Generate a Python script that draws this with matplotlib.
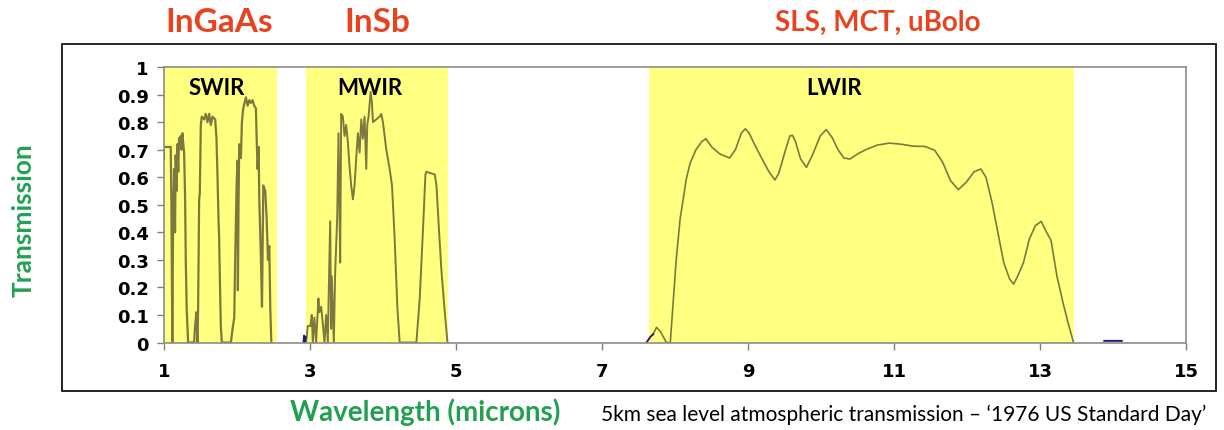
import numpy as np
import matplotlib
matplotlib.use('Agg')
import matplotlib.pyplot as plt
from matplotlib.patches import Rectangle

# transmission, one list per window
swir_x = [1.014, 1.092, 1.101, 1.106, 1.114, 1.124, 1.137, 1.151, 1.160, 1.170, 1.183, 1.195,
          1.206, 1.229, 1.240, 1.252, 1.261, 1.275, 1.288, 1.298, 1.311, 1.330,
          1.412, 1.426, 1.444, 1.458, 1.467, 1.481, 1.490, 1.504, 1.517, 1.549, 1.572,
          1.595, 1.618, 1.641, 1.664, 1.701, 1.719, 1.733, 1.746, 1.755, 1.765, 1.778, 1.792,
          1.916, 1.939, 1.962, 1.975, 1.994, 2.007, 2.012, 2.021, 2.030, 2.053, 2.067,
          2.085, 2.103, 2.122, 2.145, 2.168, 2.190, 2.213, 2.236, 2.259, 2.268, 2.282,
          2.296, 2.305, 2.328, 2.342, 2.360, 2.387, 2.406, 2.424, 2.442, 2.456, 2.470]
swir_y = [0.71, 0.71, 0.50, 0.30, 0.00, 0.45, 0.63, 0.40, 0.68, 0.55, 0.72, 0.62,
          0.74, 0.75, 0.70, 0.76, 0.73, 0.69, 0.54, 0.30, 0.12, 0.00,
          0.00, 0.06, 0.11, 0.00, 0.12, 0.52, 0.54, 0.79, 0.82, 0.81, 0.83,
          0.80, 0.83, 0.79, 0.82, 0.81, 0.74, 0.60, 0.45, 0.38, 0.23, 0.06, 0.00,
          0.00, 0.05, 0.09, 0.30, 0.57, 0.66, 0.19, 0.50, 0.72, 0.67, 0.80,
          0.85, 0.87, 0.89, 0.86, 0.88, 0.87, 0.88, 0.86, 0.85, 0.75, 0.63,
          0.71, 0.52, 0.30, 0.13, 0.57, 0.55, 0.45, 0.30, 0.35, 0.12, 0.00]

mwir_x = [2.946, 2.969, 3.005, 3.024, 3.038, 3.060, 3.083, 3.115, 3.129, 3.152, 3.175,
          3.198, 3.221, 3.244, 3.257, 3.276, 3.289, 3.299, 3.326, 3.344, 3.372, 3.390,
          3.404, 3.413, 3.427, 3.450, 3.473, 3.495, 3.518, 3.541, 3.564, 3.587, 3.610,
          3.633, 3.656, 3.679, 3.702, 3.724, 3.747, 3.770, 3.784, 3.802, 3.830, 3.848,
          3.862, 3.907, 3.953, 3.976, 3.999, 4.045, 4.091, 4.123, 4.159, 4.196, 4.228,
          4.457, 4.503, 4.549, 4.581, 4.594, 4.709, 4.732, 4.764, 4.800, 4.846, 4.883]
mwir_y = [0.00, 0.06, 0.06, 0.10, 0.00, 0.09, 0.00, 0.16, 0.11, 0.13, 0.07, 0.00,
          0.10, 0.00, 0.19, 0.44, 0.05, 0.24, 0.00, 0.25, 0.45, 0.76,
          0.48, 0.29, 0.83, 0.82, 0.75, 0.79, 0.73, 0.64, 0.57, 0.52, 0.57,
          0.67, 0.76, 0.69, 0.81, 0.74, 0.82, 0.63, 0.79, 0.82, 0.91, 0.87,
          0.80, 0.81, 0.82, 0.83, 0.80, 0.70, 0.63, 0.57, 0.38, 0.13, 0.00,
          0.00, 0.16, 0.42, 0.61, 0.62, 0.61, 0.57, 0.42, 0.26, 0.11, 0.00]

lwir_x = [7.70, 7.746, 7.800, 7.881, 7.935, 7.962, 8.016, 8.070, 8.124, 8.151, 8.205,
          8.286, 8.368, 8.422, 8.503, 8.611, 8.746, 8.827, 8.908, 8.962, 9.016, 9.097,
          9.205, 9.286, 9.368, 9.422, 9.503, 9.573, 9.611, 9.649, 9.719, 9.800, 9.881,
          9.989, 10.070, 10.151, 10.232, 10.314, 10.395, 10.503, 10.611, 10.773, 10.935,
          11.097, 11.259, 11.422, 11.557, 11.665, 11.773, 11.881, 11.989, 12.097, 12.189,
          12.259, 12.341, 12.422, 12.503, 12.584, 12.638, 12.692, 12.773, 12.854, 12.935,
          13.016, 13.070, 13.151, 13.232, 13.314, 13.395, 13.459]
lwir_y = [0.03, 0.055, 0.04, 0.00, 0.00, 0.10, 0.30, 0.45, 0.54, 0.59, 0.65,
          0.70, 0.73, 0.74, 0.71, 0.685, 0.67, 0.70, 0.76, 0.776, 0.76, 0.715,
          0.66, 0.62, 0.59, 0.615, 0.69, 0.75, 0.752, 0.73, 0.667, 0.636, 0.68,
          0.75, 0.773, 0.745, 0.70, 0.67, 0.666, 0.685, 0.70, 0.717, 0.724,
          0.72, 0.713, 0.712, 0.698, 0.655, 0.588, 0.555, 0.582, 0.62, 0.63,
          0.60, 0.51, 0.40, 0.29, 0.23, 0.212, 0.24, 0.29, 0.376, 0.424,
          0.44, 0.41, 0.37, 0.24, 0.145, 0.06, 0.00]

# second (navy) trace, only visible in a few spots
navy_x = [1.0, 1.0, np.nan, 2.91, 2.92, 2.93, 2.94, np.nan, 7.61, 7.66, 7.70, np.nan, 13.88, 14.12]
navy_y = [0.665, 0.70, np.nan, 0.0, 0.025, 0.0, 0.02, np.nan, 0.0, 0.02, 0.03, np.nan, 0.006, 0.006]

band_lo = [1.0, 2.95, 7.64]
band_hi = [2.55, 4.89, 13.46]
band_names = ['SWIR', 'MWIR', 'LWIR']
band_label_x = [1.72, 3.82, 10.18]

detectors = ['InGaAs', 'InSb', 'SLS, MCT, uBolo']
detector_x = [1.76, 3.92, 10.77]
detector_size = [24, 24, 20]

fig = plt.figure(figsize=(12.24, 4.31), dpi=100)
ax = fig.add_axes([0.134, 0.203, 0.835, 0.639])

for lo, hi in zip(band_lo, band_hi):
    ax.axvspan(lo, hi, color='#ffff80', lw=0, zorder=0)

olive = '#7d7840'
ax.plot(swir_x, swir_y, color=olive, lw=1.6, zorder=2)
ax.plot(mwir_x, mwir_y, color=olive, lw=1.4, zorder=2)
ax.plot(lwir_x, lwir_y, color=olive, lw=1.2, zorder=2)
ax.plot(navy_x, navy_y, color='#1c1c78', lw=1.4, zorder=2)

for name, lx in zip(band_names, band_label_x):
    ax.text(lx, 0.925, name, ha='center', va='center', fontsize=16, fontweight='bold',
            family='Lato', color='black')

for name, dx, fs in zip(detectors, detector_x, detector_size):
    ax.text(dx, 1.165, name, ha='center', va='center', fontsize=fs, fontweight='bold',
            family='Lato', color='#e8431e', clip_on=False)

ax.set_xlim(1, 15)
ax.set_ylim(0, 1)
ax.set_xticks(np.arange(1, 16, 2))
ax.set_yticks(np.arange(0, 1.01, 0.1))
ax.set_yticklabels(['0', '0.1', '0.2', '0.3', '0.4', '0.5', '0.6', '0.7', '0.8', '0.9', '1'])
ax.tick_params(direction='out', length=5, width=1, color='#808080', labelsize=13, pad=6)
ax.tick_params(axis='x', pad=9)
for lab in ax.get_xticklabels() + ax.get_yticklabels():
    lab.set_family('DejaVu Sans')
    lab.set_fontweight('bold')
for s in ax.spines.values():
    s.set_color('#8c8c8c')
    s.set_linewidth(1.2)
    s.set_zorder(3)

fig.text(0.019, 0.49, 'Transmission', rotation=90, ha='center', va='center',
         fontsize=19, fontweight='bold', family='Lato', color='#22a052')
fig.text(0.347, 0.043, 'Wavelength (microns)', ha='center', va='center',
         fontsize=20, fontweight='bold', family='Lato', color='#22a052')
fig.text(0.738, 0.037, '5km sea level atmospheric transmission \u2013 \u20181976 US Standard Day\u2019',
         ha='center', va='center', fontsize=15, family='Lato', color='black')

fig.patches.append(Rectangle((0.0507, 0.0905), 0.943, 0.805, transform=fig.transFigure,
                             fill=False, edgecolor='black', lw=1.2))

fig.savefig('out.png', dpi=100)
